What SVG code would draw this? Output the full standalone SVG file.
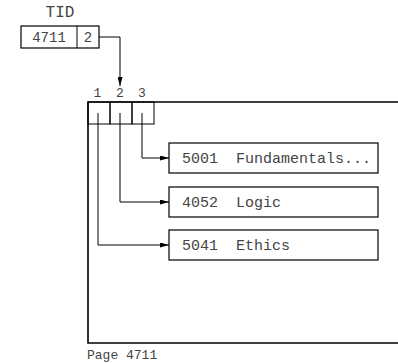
<svg xmlns="http://www.w3.org/2000/svg" width="398" height="363" viewBox="0 0 398 363">
<style>
text{font-family:"Liberation Mono","Courier New",monospace;fill:#444}
.b{fill:#fff;stroke:#000;stroke-width:1.2}
.c{fill:none;stroke:#000;stroke-width:1}
.p{fill:none;stroke:#000;stroke-width:1.6}
</style>
<defs>
<marker id="ah" viewBox="0 0 9 5" refX="9" refY="2.5" markerWidth="9" markerHeight="5" markerUnits="userSpaceOnUse" orient="auto">
<path d="M0,0 L9,2.5 L0,5 Z" fill="#000"/>
</marker>
</defs>
<g id="tid">
<text x="60" y="17" font-size="16" text-anchor="middle">TID</text>
<rect class="b" x="21" y="26" width="78" height="22"/>
<line class="c" x1="77" y1="26" x2="77" y2="48"/>
<text x="49" y="42" font-size="14" text-anchor="middle">4711</text>
<text x="88" y="42" font-size="14" text-anchor="middle">2</text>
</g>
<g id="page">
<text x="97.5" y="97" font-size="13" text-anchor="middle">1</text>
<text x="120" y="97" font-size="13" text-anchor="middle">2</text>
<text x="142" y="97" font-size="13" text-anchor="middle">3</text>
<path class="p" d="M398,102 H88 V343 H398"/>
<rect class="c" x="88" y="102" width="22" height="22"/>
<rect class="c" x="110" y="102" width="22" height="22"/>
<rect class="c" x="132" y="102" width="22" height="22"/>
<text x="87" y="359" font-size="13">Page 4711</text>
</g>
<g id="r5001">
<rect class="b" x="169" y="143" width="209" height="30"/>
<text x="182" y="163" font-size="15" xml:space="preserve">5001  Fundamentals...</text>
</g>
<g id="r4052">
<rect class="b" x="169" y="187" width="209" height="30"/>
<text x="182" y="207" font-size="15" xml:space="preserve">4052  Logic</text>
</g>
<g id="r5041">
<rect class="b" x="169" y="230" width="209" height="30"/>
<text x="182" y="250" font-size="15" xml:space="preserve">5041  Ethics</text>
</g>
<g id="connectors">
<path class="c" d="M99,37 H120 V86" marker-end="url(#ah)"/>
<path class="c" d="M142,113 V158 H169" marker-end="url(#ah)"/>
<path class="c" d="M120,113 V202 H169" marker-end="url(#ah)"/>
<path class="c" d="M98,113 V245 H169" marker-end="url(#ah)"/>
</g>
</svg>
